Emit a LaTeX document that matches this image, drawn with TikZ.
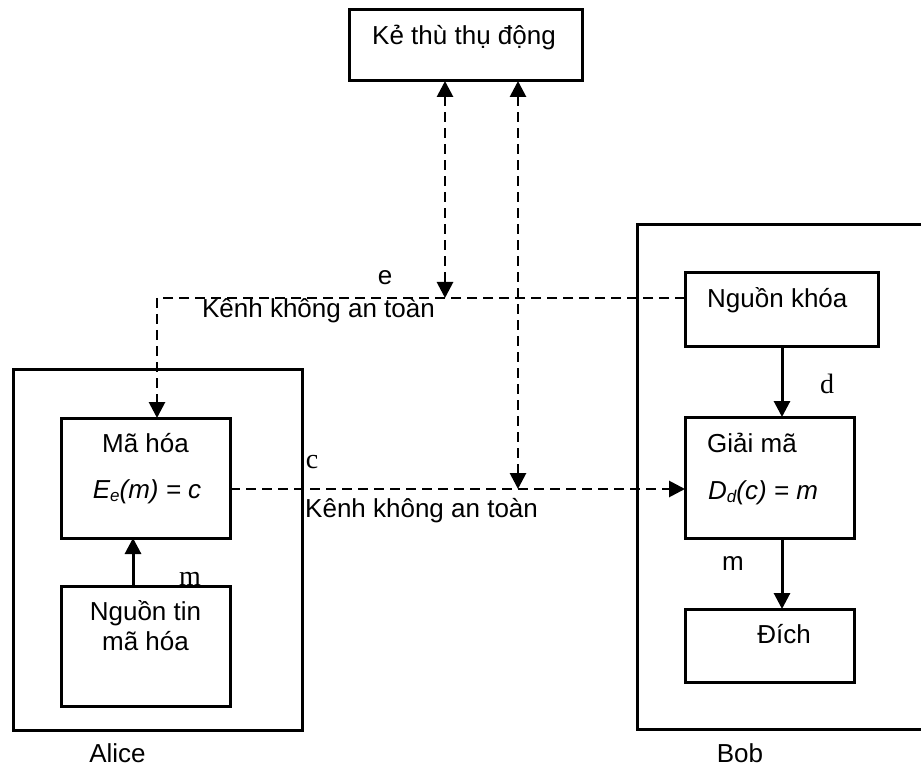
\documentclass[tikz,border=0pt]{standalone}
\usepackage{fontspec}
\setmainfont{Liberation Sans}
\newfontfamily\serifface{Liberation Serif}
\usetikzlibrary{arrows.meta}
\begin{document}
\begin{tikzpicture}[x=1pt,y=-1pt,
  box/.style={draw,line width=3pt,rectangle,inner sep=0pt,outer sep=0pt},
  txt/.style={font=\fontsize{26}{30}\selectfont,inner sep=0pt,anchor=base},
  lbl/.style={font=\serifface\fontsize{28}{30}\selectfont,inner sep=0pt,anchor=base},
  solidarrow/.style={line width=3pt,-{Triangle[width=16pt,length=16pt]}},
  dashline/.style={line width=2.8pt,dash pattern=on 10pt off 6pt},
  dasharrow/.style={dashline,-{Triangle[width=16pt,length=16pt]}},
  dashboth/.style={dashline,{Triangle[width=16pt,length=16pt]}-{Triangle[width=16pt,length=16pt]}}
]
\useasboundingbox (0,0) rectangle (921,767);
\clip (0,0) rectangle (921,767);

% boxes
\node[box,minimum width=233pt,minimum height=71pt]  (enemy)     at (465.5,45.5) {};
\node[box,minimum width=289pt,minimum height=361pt] (alice)     at (157.5,549.5) {};
\node[box,minimum width=169pt,minimum height=120pt] (mahoa)     at (145.5,478) {};
\node[box,minimum width=169pt,minimum height=120pt] (nguontin)  at (145.5,646) {};
\node[box,minimum width=286pt,minimum height=504pt] (bob)       at (780,477) {};
\node[box,minimum width=193pt,minimum height=73pt]  (nguonkhoa) at (781.5,309.5) {};
\node[box,minimum width=169pt,minimum height=121pt] (giaima)    at (769.5,477.5) {};
\node[box,minimum width=169pt,minimum height=73pt]  (dich)      at (769.5,645.5) {};

% routing points
\coordinate (ecorner) at (157,298);
\coordinate (tapL) at (445,298);
\coordinate (cline) at (518,489);
\coordinate (mx) at (133,0);
\coordinate (bx) at (782,0);

% key channel e and ciphertext channel c
\draw[dasharrow] (ecorner -| nguonkhoa.west) -- (ecorner) -- (ecorner |- mahoa.north);
\draw[dasharrow] (cline -| mahoa.east) -- (cline -| giaima.west);

% eavesdropper taps
\draw[dashboth] (enemy.south -| tapL) -- (tapL);
\draw[dashboth] (enemy.south -| cline) -- (cline);

% solid arrows
\draw[solidarrow] (nguontin.north -| mx) -- (mahoa.south -| mx);
\draw[solidarrow] (nguonkhoa.south -| bx) -- (giaima.north -| bx);
\draw[solidarrow] (giaima.south -| bx) -- (dich.north -| bx);

% texts
\node[txt] (t-enemy) at (464,45) {Kẻ thù thụ động};
\node[txt] (t-e) at (385,285) {e};
\node[txt] (t-ch1) at (318.5,317) {Kênh không an toàn};
\node[txt] (t-mahoa) at (145.5,452) {Mã hóa};
\node[txt] (t-enc) at (147,498) {\itshape E\raisebox{-0.22ex}{\fontsize{17}{17}\selectfont e}(m) = c};
\node[txt] (t-src1) at (145.5,620) {Nguồn tin};
\node[txt] (t-src2) at (145.5,650) {mã hóa};
\node[lbl] (l-m1) at (190,585) {m};
\node[lbl] (l-c) at (312,468) {c};
\node[txt,anchor=base west] (t-ch2) at (305,517) {Kênh không an toàn};
\node[txt,anchor=base west] (t-nk) at (707,308) {Nguồn khóa};
\node[lbl] (l-d) at (827,393) {d};
\node[txt,anchor=base west] (t-gm) at (707,452) {Giải mã};
\node[txt,anchor=base west] (t-dec) at (708,499) {\itshape D\raisebox{-0.22ex}{\fontsize{17}{17}\selectfont d}(c) = m};
\node[txt] (l-m2) at (733,570) {m};
\node[txt] (t-dich) at (784,643) {Đích};
\node[txt] (t-alice) at (117.5,762) {Alice};
\node[txt] (t-bob) at (740,762) {Bob};
\end{tikzpicture}
\end{document}
